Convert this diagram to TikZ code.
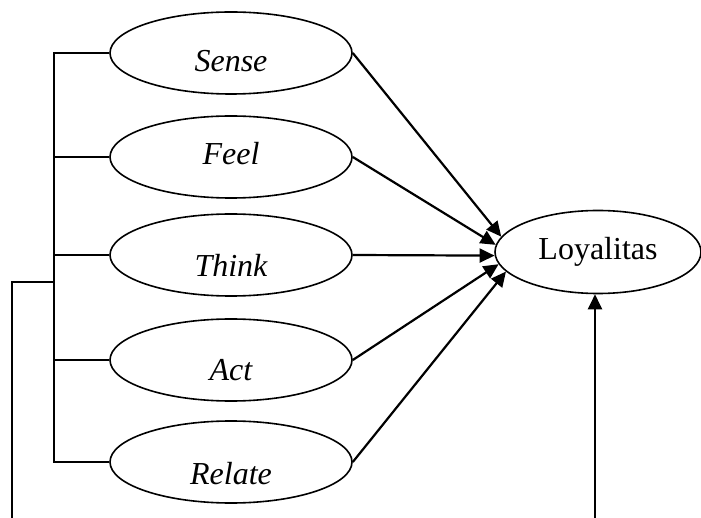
\documentclass[tikz,border=0pt]{standalone}
\usepackage{fontspec}
\setmainfont{Liberation Serif}
\usetikzlibrary{arrows.meta,shapes.geometric}
\begin{document}
\begin{tikzpicture}[x=1pt,y=-1pt,
  oval/.style={draw,ellipse,line width=1.6pt,minimum width=242pt,minimum height=82pt,inner sep=0pt},
  lbl/.style={font=\fontsize{32}{38}\selectfont\itshape,inner sep=0pt},
  arr/.style={line width=2.2pt,-{Triangle[length=15pt,width=14pt]}},
  ln/.style={line width=1.6pt}]
\useasboundingbox (0,0) rectangle (701,518);
\node[oval,label={[lbl,yshift=-8pt]center:Sense}] (sense) at (231,53) {};
\node[oval,label={[lbl,yshift=3pt]center:Feel}] (feel) at (231,157) {};
\node[oval,label={[lbl,yshift=-10pt]center:Think}] (think) at (231,255) {};
\node[oval,label={[lbl,yshift=-10pt]center:Act}] (act) at (231,360) {};
\node[oval,label={[lbl,yshift=-12pt]center:Relate}] (relate) at (231,462) {};
\node[draw,ellipse,line width=1.6pt,minimum width=206pt,minimum height=83pt,inner sep=0pt,
  font=\fontsize{32}{38}\selectfont] (loy) at (598,252) {Loyalitas};
% bracket
\coordinate (spine) at (54,282);
\coordinate (outer) at (12,530);
\draw[ln] (sense.west) -- (sense.west -| spine) -- (relate.west -| spine) -- (relate.west);
\draw[ln] (feel.west) -- (feel.west -| spine);
\draw[ln] (think.west) -- (think.west -| spine);
\draw[ln] (act.west) -- (act.west -| spine);
\draw[line width=2.2pt] (spine) -- (spine -| outer) -- (outer);
% arrows
\draw[arr] (sense.east) -- (loy.171);
\draw[arr] (feel.east) -- (loy.176);
\draw[arr] (think.east) -- (loy.182);
\draw[arr] (act.east) -- (loy.187);
\draw[arr] (relate.east) -- (loy.192);
\coordinate (bot) at (595,530);
\draw[arr] (bot) -- (bot |- loy.south);
\end{tikzpicture}
\end{document}
